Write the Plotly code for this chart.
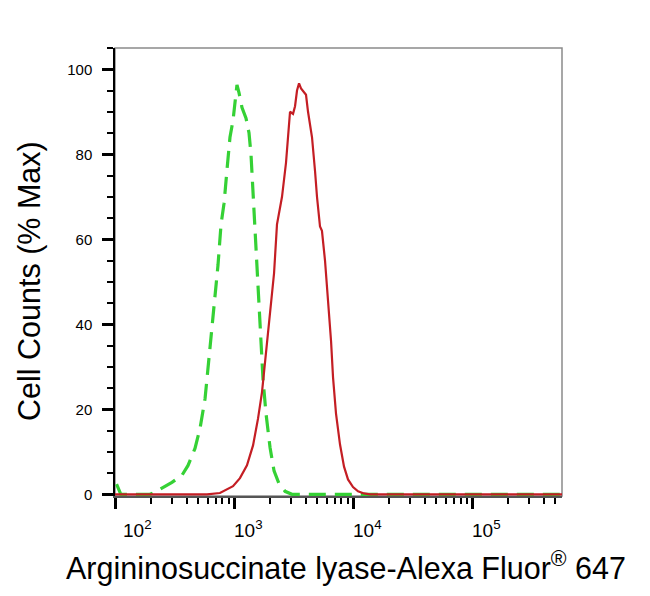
import math
import plotly.graph_objects as go

# fluorescence intensity (x) and % max counts (y)
ctrl_x = [75, 98, 112, 197, 217, 253, 301, 366, 411, 470, 518, 571, 605, 654, 692, 734,
          778, 825, 874, 925, 981, 1019, 1059, 1101, 1167, 1261, 1337, 1389, 1430, 1472,
          1530, 1591, 1653, 1753, 1857, 2008, 2170, 2389, 2684, 3070, 630000]
ctrl_y = [7, 3.8, 0, 0, 0.5, 1.6, 2.8, 4.5, 6.8, 10.8, 15.5, 22.5, 29.5, 38.9, 46, 54,
          63.5, 68.5, 76.5, 84, 88, 92.5, 96.3, 94.5, 91, 88.5, 85, 80, 73, 67,
          59, 49, 39, 27, 19, 11, 5.5, 2.5, 0.7, 0, 0]

asl_x = [75, 593, 762, 981, 1122, 1285, 1445, 1591, 1718, 1857, 2008, 2170, 2297, 2531,
         2735, 2843, 2956, 3133, 3257, 3384, 3519, 3656, 3800, 4027, 4188, 4523, 4797,
         4980, 5280, 5483, 5816, 6167, 6538, 6792, 7196, 7776, 8403, 9075, 10000, 11020,
         12370, 13900, 630000]
asl_y = [0, 0, 0.3, 1.9, 3.8, 6.8, 11.5, 17.8, 24, 33, 42.5, 52, 63.5, 70,
         78, 84, 90, 89.5, 91.3, 95, 96.7, 95.5, 95, 94, 90, 84, 76,
         70, 63, 62, 55, 46, 36, 27.5, 19, 11.7, 6.5, 3.5, 1.7, 0.7,
         0.2, 0, 0]

x_tickvals = [100, 1000, 10000, 100000]
x_ticktext = ["10<sup>2</sup>", "10<sup>3</sup>", "10<sup>4</sup>", "10<sup>5</sup>"]
y_tickvals = [0, 20, 40, 60, 80, 100]

font = "Liberation Sans, Arial, Helvetica, sans-serif"

fig = go.Figure()
fig.add_trace(go.Scatter(x=ctrl_x, y=ctrl_y, mode="lines",
                         line=dict(color="#35d135", width=3.2, dash="17px,9px")))
fig.add_trace(go.Scatter(x=asl_x, y=asl_y, mode="lines",
                         line=dict(color="#c41e24", width=2.2)))

# x tick labels as annotations; they sit just right of each tick
tick_notes = [
    dict(text=t, x=math.log10(v), xref="x", y=0, yref="paper",
         xanchor="center", yanchor="middle", xshift=22 if i == 0 else 14, yshift=-33,
         showarrow=False, font=dict(size=19, family=font))
    for i, (v, t) in enumerate(zip(x_tickvals, x_ticktext))
]

# page body has an 8px margin, so the margins are shifted by 8
fig.update_layout(
    width=650, height=596,
    margin=dict(l=107, r=96, t=40, b=108),
    paper_bgcolor="white", plot_bgcolor="white",
    showlegend=False,
    font=dict(family=font, color="black", size=15),
    shapes=[dict(type="rect", xref="paper", yref="paper", x0=0, x1=1, y0=0, y1=1,
                 line=dict(color="#8a8a8a", width=1.5), layer="below")],
    annotations=tick_notes + [
        dict(text="Argininosuccinate lyase-Alexa Fluor<sup>®</sup> 647", xref="paper", yref="paper",
             x=(346 - 115) / 447, y=-(566 - 496) / 448, xanchor="center", yanchor="middle",
             showarrow=False, font=dict(size=30.5, family=font)),
        dict(text="Cell Counts (% Max)", xref="paper", yref="paper",
             x=-(115 - 29) / 447, y=(496 - 281) / 448, xanchor="center", yanchor="middle",
             textangle=-90, showarrow=False, font=dict(size=30.5, family=font)),
    ],
)

fig.update_xaxes(
    type="log", range=[2, 5.756],
    tickmode="array", tickvals=x_tickvals, showticklabels=False,
    ticks="outside", ticklen=11, tickwidth=3, tickcolor="black",
    showline=True, linecolor="#555555", linewidth=1.5,
    showgrid=False, zeroline=False,
    minor=dict(dtick="D1", ticks="outside", ticklen=6, tickwidth=1.5, tickcolor="black", showgrid=False),
)
fig.update_yaxes(
    range=[-0.4, 105],
    tickmode="array", tickvals=y_tickvals,
    ticks="outside", ticklen=11, tickwidth=3, tickcolor="black",
    ticklabelstandoff=7,
    showline=True, linecolor="black", linewidth=1.5,
    showgrid=False, zeroline=False,
    minor=dict(dtick=5, tick0=0, ticks="outside", ticklen=6, tickwidth=1.5, tickcolor="black", showgrid=False),
    tickfont=dict(size=15),
)

fig.write_html("out.html")
